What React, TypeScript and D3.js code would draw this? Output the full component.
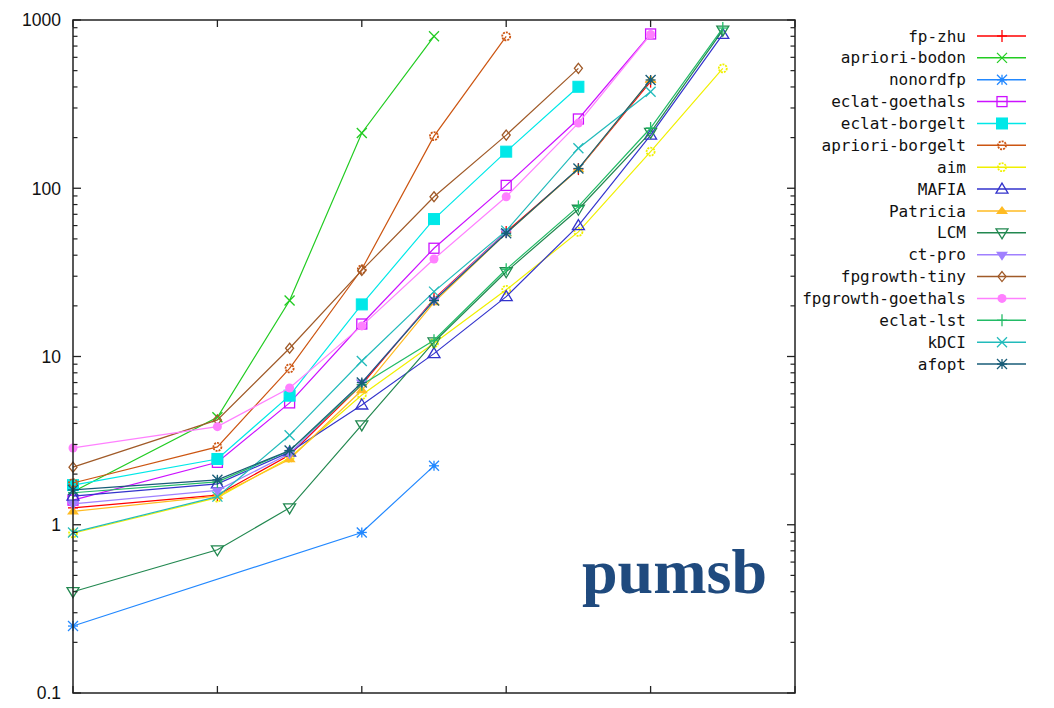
import React from "react";
import * as d3 from "d3";

// x positions (support steps) at which measurements exist
const xSteps = [0, 2, 3, 4, 5, 6, 7, 8, 9];
const xTicks = [0, 2, 4, 6, 8, 10];
const yTickValues = [0.1, 1, 10, 100, 1000];
const yTickLabels = ["0.1", "1", "10", "100", "1000"];

const seriesNames = [
  "fp-zhu", "apriori-bodon", "nonordfp", "eclat-goethals", "eclat-borgelt",
  "apriori-borgelt", "aim", "MAFIA", "Patricia", "LCM", "ct-pro",
  "fpgrowth-tiny", "fpgrowth-goethals", "eclat-lst", "kDCI", "afopt",
];

type V = number | null;
const fpZhu: V[] = [1.26, 1.5, 2.6, 6.8, 22, 55, 130, 430, null];
const aprioriBodon: V[] = [1.57, 4.35, 21.5, 213, 800, null, null, null, null];
const nonordfp: V[] = [0.25, null, null, 0.9, 2.24, null, null, null, null];
const eclatGoethals: V[] = [1.4, 2.35, 5.3, 15.6, 44, 104, 258, 826, null];
const eclatBorgelt: V[] = [1.72, 2.46, 5.85, 20.4, 65.6, 165, 401, null, null];
const aprioriBorgelt: V[] = [1.77, 2.9, 8.5, 33, 204, 800, null, null, null];
const aim: V[] = [0.89, 1.45, 2.5, 5.9, 12, 24.9, 55, 165, 516];
const mafia: V[] = [1.48, 1.75, 2.7, 5.15, 10.4, 22.7, 60, 207, 822];
const patricia: V[] = [1.2, 1.48, 2.45, 6.3, 21, 54, 130, 440, null];
const lcm: V[] = [0.4, 0.71, 1.26, 3.92, 12.2, 31.9, 75, 215, 870];
const ctPro: V[] = [1.33, 1.6, 2.65, 7.0, 21.7, 55, null, null, null];
const fpgrowthTiny: V[] = [2.2, 4.2, 11.2, 32.5, 89, 207, 516, null, null];
const fpgrowthGoethals: V[] = [2.86, 3.83, 6.5, 15.2, 38, 89, 244, 820, null];
const eclatLst: V[] = [1.55, 1.8, 2.75, 6.8, 12.5, 33, 78, 228, 896];
const kdci: V[] = [0.9, 1.47, 3.4, 9.4, 24.3, 56, 173, 375, null];
const afopt: V[] = [1.61, 1.85, 2.76, 7.0, 21.5, 54, 131, 440, null];

const seriesValues: V[][] = [
  fpZhu, aprioriBodon, nonordfp, eclatGoethals, eclatBorgelt, aprioriBorgelt,
  aim, mafia, patricia, lcm, ctPro, fpgrowthTiny, fpgrowthGoethals, eclatLst,
  kdci, afopt,
];

const seriesColors = [
  "#ff0000", "#22cc22", "#2288ff", "#cc11ff", "#00e8e8", "#cc5511",
  "#f0f000", "#3333cc", "#ffbb22", "#228850", "#a080ff", "#a05a28",
  "#ff80ff", "#22bb66", "#22bbbb", "#185c78",
];

const seriesMarkers = [
  "plus", "cross", "star", "square", "squareFill", "circle", "circle",
  "triUp", "triUpFill", "triDown", "triDownFill", "diamond", "circleFill",
  "plus", "cross", "star",
];

const W = 1054;
const H = 708;
const plotLeft = 73;
const plotRight = 795;
const plotTop = 20;
const plotBottom = 693;

function Marker({ type, x, y, color }: { type: string; x: number; y: number; color: string }) {
  const s = 5;
  const sw = 1.3;
  switch (type) {
    case "plus":
      return (
        <g stroke={color} strokeWidth={sw}>
          <line x1={x - s} y1={y} x2={x + s} y2={y} />
          <line x1={x} y1={y - s - 1} x2={x} y2={y + s + 1} />
        </g>
      );
    case "cross":
      return (
        <g stroke={color} strokeWidth={sw}>
          <line x1={x - s} y1={y - s} x2={x + s} y2={y + s} />
          <line x1={x - s} y1={y + s} x2={x + s} y2={y - s} />
        </g>
      );
    case "star":
      return (
        <g stroke={color} strokeWidth={sw}>
          <line x1={x - s} y1={y} x2={x + s} y2={y} />
          <line x1={x} y1={y - s} x2={x} y2={y + s} />
          <line x1={x - s} y1={y - s} x2={x + s} y2={y + s} />
          <line x1={x - s} y1={y + s} x2={x + s} y2={y - s} />
          <circle cx={x} cy={y} r={2} fill={color} stroke="none" />
        </g>
      );
    case "square":
      return <rect x={x - s} y={y - s} width={2 * s} height={2 * s} fill="none" stroke={color} strokeWidth={sw} />;
    case "squareFill":
      return <rect x={x - s - 0.5} y={y - s - 0.5} width={2 * s + 1} height={2 * s + 1} fill={color} stroke={color} />;
    case "circle":
      return <circle cx={x} cy={y} r={4} fill="none" stroke={color} strokeWidth={1.8} strokeDasharray="2 1" />;
    case "circleFill":
      return <circle cx={x} cy={y} r={4.5} fill={color} />;
    case "triUp":
      return (
        <path
          d={`M${x},${y - s - 1}L${x + s + 1},${y + s - 1}L${x - s - 1},${y + s - 1}Z`}
          fill="none"
          stroke={color}
          strokeWidth={sw}
        />
      );
    case "triUpFill":
      return <path d={`M${x},${y - s}L${x + s + 1},${y + s - 2}L${x - s - 1},${y + s - 2}Z`} fill={color} />;
    case "triDown":
      return (
        <path
          d={`M${x},${y + s + 1}L${x + s + 1},${y - s + 1}L${x - s - 1},${y - s + 1}Z`}
          fill="none"
          stroke={color}
          strokeWidth={sw}
        />
      );
    case "triDownFill":
      return <path d={`M${x},${y + s + 1}L${x + s + 1},${y - s + 2}L${x - s - 1},${y - s + 2}Z`} fill={color} />;
    case "diamond":
      return (
        <path
          d={`M${x},${y - s}L${x + s - 1},${y}L${x},${y + s}L${x - s + 1},${y}Z`}
          fill="none"
          stroke={color}
          strokeWidth={sw}
        />
      );
    default:
      return null;
  }
}

export default function App() {
  const x = d3.scaleLinear().domain([0, 10]).range([plotLeft, plotRight]);
  const y = d3.scaleLog().domain([0.1, 1000]).range([plotBottom, plotTop]);

  const minorTicks: number[] = [];
  for (let d = 0.1; d < 1000; d *= 10) {
    for (let k = 2; k <= 9; k++) minorTicks.push(d * k);
  }

  const line = d3
    .line<{ x: number; v: number }>()
    .x((d) => x(d.x))
    .y((d) => y(d.v));

  const legendTop = 36;
  const legendStep = 21.87;

  return (
    <div style={{ position: "absolute", left: 0, top: 0 }}>
      <svg width={W} height={H} style={{ display: "block", background: "#fff" }}>
        {/* series lines */}
        {seriesValues.map((vals, i) => {
          const pts = xSteps
            .map((xs, j) => ({ x: xs, v: vals[j] as number }))
            .filter((p) => p.v != null);
          return (
            <g key={seriesNames[i]}>
              <path d={line(pts) || ""} fill="none" stroke={seriesColors[i]} strokeWidth={1.2} />
              {pts.map((p, j) => (
                <Marker key={j} type={seriesMarkers[i]} x={x(p.x)} y={y(p.v)} color={seriesColors[i]} />
              ))}
            </g>
          );
        })}

        {/* frame */}
        <rect
          x={plotLeft}
          y={plotTop}
          width={plotRight - plotLeft}
          height={plotBottom - plotTop}
          fill="none"
          stroke="#222"
          strokeWidth={1.5}
        />
        {/* y ticks */}
        {yTickValues.map((v) => (
          <g key={"yt" + v} stroke="#222" strokeWidth={1.3}>
            <line x1={plotLeft} x2={plotLeft + 8} y1={y(v)} y2={y(v)} />
            <line x1={plotRight} x2={plotRight - 8} y1={y(v)} y2={y(v)} />
          </g>
        ))}
        {minorTicks.map((v) => (
          <g key={"ym" + v} stroke="#222" strokeWidth={1.2}>
            <line x1={plotLeft} x2={plotLeft + 4.5} y1={y(v)} y2={y(v)} />
            <line x1={plotRight} x2={plotRight - 4.5} y1={y(v)} y2={y(v)} />
          </g>
        ))}
        {yTickValues.map((v, i) => (
          <text
            key={"yl" + v}
            x={plotLeft - 12}
            y={y(v)}
            dy="0.36em"
            textAnchor="end"
            fontFamily="Liberation Sans, Arial, sans-serif"
            fontSize={17.5}
            fill="#111"
          >
            {yTickLabels[i]}
          </text>
        ))}
        {/* x ticks */}
        {xTicks.map((t) => (
          <g key={"xt" + t} stroke="#222" strokeWidth={1.3}>
            <line x1={x(t)} x2={x(t)} y1={plotTop} y2={plotTop + 7} />
            <line x1={x(t)} x2={x(t)} y1={plotBottom} y2={plotBottom - 7} />
          </g>
        ))}

        {/* legend */}
        {seriesNames.map((name, i) => {
          const ly = legendTop + i * legendStep;
          return (
            <g key={"lg" + name}>
              <text
                x={966}
                y={ly}
                dy="0.35em"
                textAnchor="end"
                fontFamily="DejaVu Sans Mono, monospace"
                fontSize={16}
                fill="#111"
              >
                {name}
              </text>
              <line x1={977} x2={1026} y1={ly} y2={ly} stroke={seriesColors[i]} strokeWidth={1.5} />
              <Marker type={seriesMarkers[i]} x={1002} y={ly} color={seriesColors[i]} />
            </g>
          );
        })}

        {/* dataset label */}
        <text
          x={582}
          y={593}
          fontFamily="Liberation Serif, Times New Roman, serif"
          fontWeight="bold"
          fontSize={64}
          fill="#1f4a7e"
        >
          pumsb
        </text>
      </svg>
    </div>
  );
}
